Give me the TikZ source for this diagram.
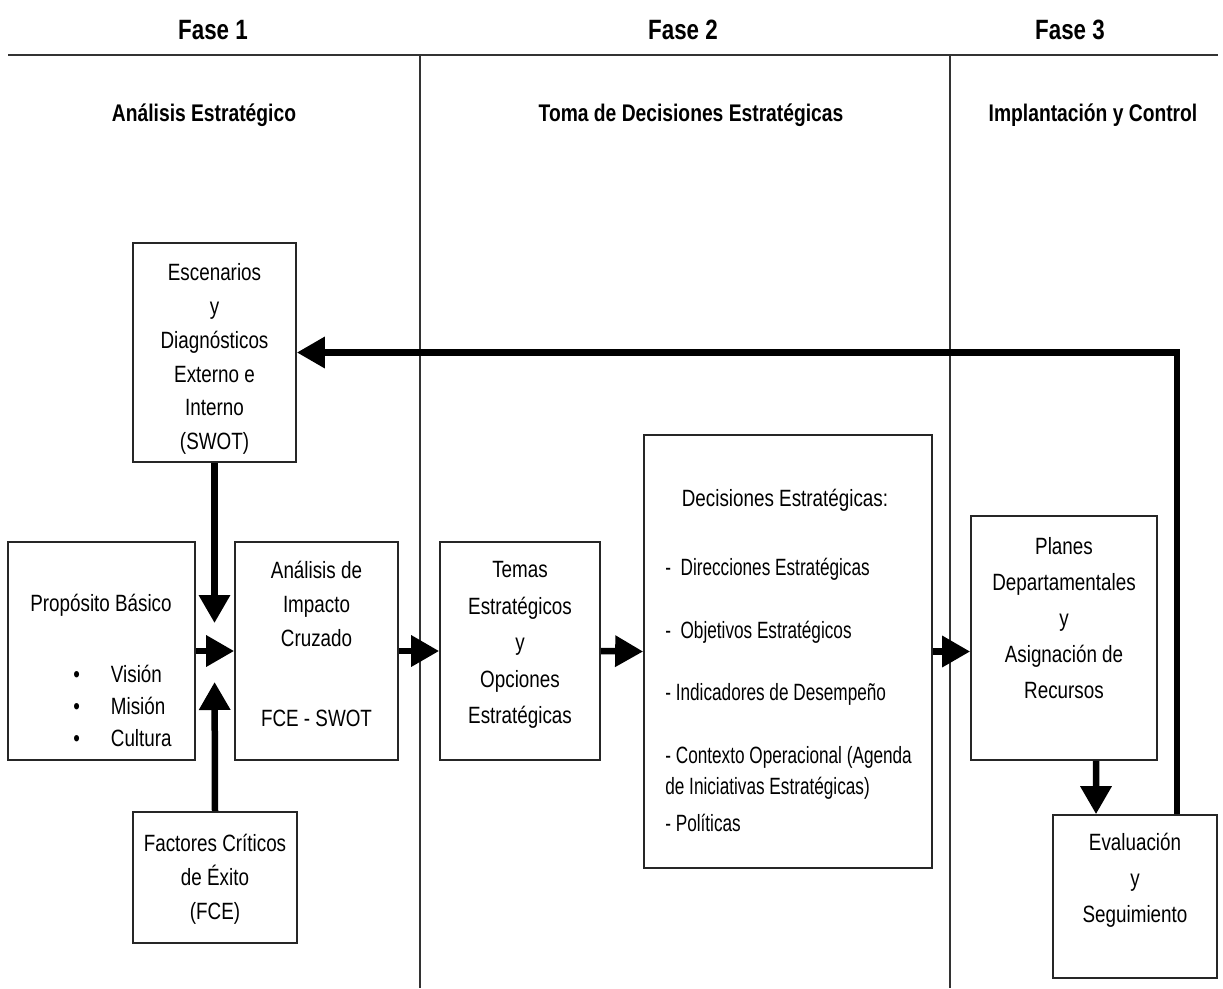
\documentclass[tikz,border=0pt]{standalone}
\usepackage{fontspec}
\setmainfont{Liberation Sans}[FakeStretch=0.8]
\newfontfamily\listfont{Liberation Sans}[FakeStretch=0.73]
\usetikzlibrary{arrows.meta,positioning,calc}

\begin{document}
\begin{tikzpicture}[x=0.02cm,y=-0.02cm,
  font=\fontsize{13.4}{19.3}\selectfont,
  box/.style={draw=black!85,line width=1pt,align=center,inner sep=0pt},
  txt/.style={align=center,inner sep=0pt},
  phase/.style={font=\fontsize{15.9}{19}\selectfont\bfseries,anchor=base,inner sep=0pt},
  stage/.style={font=\fontsize{13.7}{17}\selectfont\bfseries,anchor=base,inner sep=0pt},
  divider/.style={draw=black!80,line width=0.85pt},
  flow/.style={-{Triangle[length=0.56cm,width=0.6cm]},line width=0.13cm}]
\useasboundingbox (0,0) rectangle (1223,988);

% phases and stages
\node[phase] (f1) at (213,39) {Fase 1};
\node[phase] (f2) at (683,39) {Fase 2};
\node[phase] (f3) at (1070,39) {Fase 3};
\node[stage] (s1) at (204,121) {Análisis Estratégico};
\node[stage] (s2) at (691,121) {Toma de Decisiones Estratégicas};
\node[stage] (s3) at (1093,121) {Implantación y Control};
\draw[divider] (8,55) -- (1218,55);
\draw[divider] (420,55) -- (420,988);
\draw[divider] (950,55) -- (950,988);

% boxes
\node[box,minimum width=3.26cm,minimum height=4.38cm] (esc) at (214.5,352.5) {};
\node[txt] (esc-txt) at (214.5,359)
  {Escenarios\\y\\Diagnósticos\\Externo e\\Interno\\(SWOT)};
\node[box,minimum width=3.74cm,minimum height=4.36cm] (prop) at (101.5,651) {};
\node[txt] (prop-title) at (101,605) {Propósito Básico};
\node[txt,align=left,anchor=west,font=\fontsize{13.4}{18.2}\selectfont] (prop-list) at (73,706)
  {\textbullet\hspace{0.62cm}Visión\\\textbullet\hspace{0.62cm}Misión\\\textbullet\hspace{0.62cm}Cultura};
\node[box,minimum width=3.26cm,minimum height=4.36cm] (cruz) at (316.5,651) {};
\node[txt] (cruz-txt) at (316.5,644)
  {Análisis de\\Impacto\\Cruzado\\[0.92cm]FCE - SWOT};
\node[box,minimum width=3.28cm,minimum height=2.62cm] (fce) at (215,877.5) {};
\node[txt] (fce-txt) at (215,879.5)
  {Factores Críticos\\de Éxito\\(FCE)};
\node[box,minimum width=3.2cm,minimum height=4.36cm] (temas) at (520,651) {};
\node[txt,font=\fontsize{13.4}{20.7}\selectfont] (temas-txt) at (520,645)
  {Temas\\Estratégicos\\y\\Opciones\\Estratégicas};
\node[box,minimum width=5.76cm,minimum height=8.66cm] (decis) at (788,651.5) {};
\node[txt] (decis-title) at (785,500) {Decisiones Estratégicas:};
\node[txt,align=left,anchor=north west,font=\listfont\fontsize{13.4}{17.6}\selectfont] (decis-list) at (665,558)
  {-~~Direcciones Estratégicas\\[0.64cm]-~~Objetivos Estratégicos\\[0.62cm]- Indicadores de Desempeño\\[0.64cm]- Contexto Operacional (Agenda\\de Iniciativas Estratégicas)\\[0.12cm]- Políticas};
\node[box,minimum width=3.72cm,minimum height=4.88cm] (planes) at (1064,638) {};
\node[txt,font=\fontsize{13.4}{20.4}\selectfont] (planes-txt) at (1064,618)
  {Planes\\Departamentales\\y\\Asignación de\\Recursos};
\node[box,minimum width=3.28cm,minimum height=3.26cm] (eval) at (1135,896.5) {};
\node[txt,font=\fontsize{13.4}{20.4}\selectfont] (eval-txt) at (1135,880.5)
  {Evaluación\\y\\Seguimiento};

% arrows
\coordinate (join) at (214.5,652);
\draw[flow,shorten >=0.58cm] (esc.south) -- (join);
\draw[flow,shorten >=0.6cm] (fce.north) -- (join);
\draw[flow] (prop.east) -- (cruz.west);
\draw[flow] (cruz.east) -- (temas.west);
\draw[flow] (temas.east) -- (decis.west);
\draw[flow] (decis.east) -- (decis.east -| planes.west);
\draw[flow] ([xshift=0.64cm]planes.south) -- ([xshift=-0.78cm]eval.north);
\draw[flow] ([xshift=0.84cm]eval.north) |- (esc.east);
\end{tikzpicture}
\end{document}
